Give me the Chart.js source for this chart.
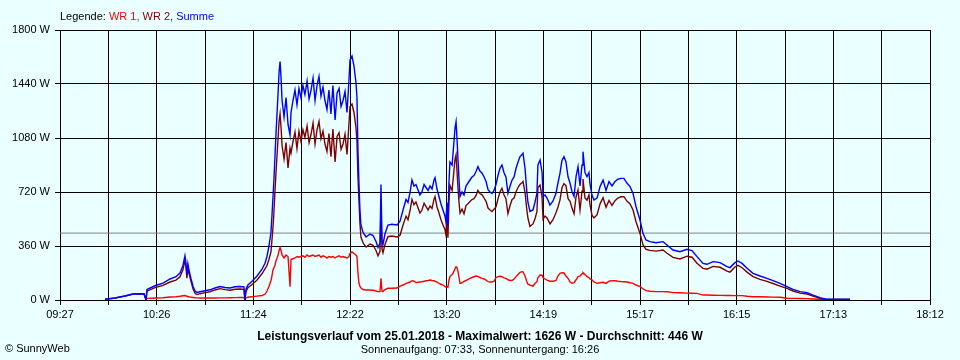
<!DOCTYPE html>
<html>
<head>
<meta charset="utf-8">
<script src="https://cdn.jsdelivr.net/npm/chart.js@4.4.1/dist/chart.umd.min.js"></script>
<style>
  html, body { margin: 0; padding: 0; background: #eaffff; }
  #wrap { width: 960px; height: 360px; }
</style>
</head>
<body>
<div id="wrap"><canvas id="chart" width="960" height="360"></canvas></div>
<script>
// Zeitpunkte in Minuten seit Mitternacht
const times = [
  594.2, 600.2, 606.2, 611.1, 617.7, 618.9, 619.5, 624.3, 629.2, 633.4,
  637.0, 639.4, 641.2, 642.4, 643.0, 643.6, 644.2, 644.8, 646.1, 647.3,
  648.5, 649.7, 651.5, 654.5, 657.5, 660.5, 663.6, 666.6, 669.6, 672.6,
  675.6, 678.0, 678.6, 679.2, 680.4, 682.9, 685.9, 688.9, 690.7, 691.9,
  693.1, 694.3, 694.9, 695.5, 696.1, 696.7, 697.3, 698.0, 698.6, 699.2,
  699.8, 700.4, 701.0, 702.2, 703.4, 704.6, 705.8, 706.4, 707.6, 708.8,
  710.0, 711.2, 712.4, 713.6, 714.8, 716.1, 717.3, 718.5, 719.7, 720.9,
  722.1, 723.3, 724.5, 725.7, 726.9, 728.1, 729.3, 730.5, 731.7, 733.0,
  734.2, 735.4, 736.6, 737.8, 739.0, 740.2, 741.4, 742.0, 743.2, 744.4,
  745.6, 746.2, 746.8, 747.4, 748.0, 748.6, 749.9, 751.7, 754.1, 755.9,
  757.7, 758.9, 760.1, 760.7, 761.3, 761.9, 763.1, 764.9, 767.3, 770.4,
  772.2, 774.0, 775.8, 777.0, 778.2, 779.4, 780.6, 781.8, 783.0, 784.2,
  785.4, 786.7, 787.9, 789.1, 790.3, 791.5, 792.7, 793.3, 794.5, 795.7,
  796.9, 798.1, 799.3, 799.9, 800.5, 801.1, 801.7, 802.3, 803.6, 804.2,
  805.4, 806.0, 806.6, 807.2, 807.8, 808.4, 809.6, 810.8, 812.0, 813.2,
  814.4, 815.6, 816.8, 818.0, 819.2, 820.4, 821.7, 822.9, 824.1, 825.3,
  826.5, 827.7, 828.9, 830.1, 831.3, 832.5, 833.7, 834.9, 836.1, 837.3,
  838.6, 839.8, 841.0, 842.2, 843.4, 844.6, 845.8, 846.4, 847.6, 848.8,
  849.4, 850.6, 852.4, 853.6, 854.8, 855.4, 856.7, 857.9, 858.5, 859.7,
  860.9, 862.7, 864.5, 866.3, 867.5, 868.7, 869.9, 871.1, 872.3, 873.6,
  874.8, 876.0, 877.2, 878.4, 879.6, 880.8, 882.0, 882.6, 883.8, 885.0,
  886.2, 886.8, 888.0, 889.2, 891.1, 892.9, 894.7, 896.5, 898.3, 900.1,
  901.9, 903.7, 905.5, 907.3, 909.2, 911.0, 912.8, 914.6, 917.0, 918.8,
  920.6, 923.0, 926.7, 930.9, 933.3, 936.9, 941.1, 945.4, 948.4, 951.4,
  955.0, 957.4, 961.1, 965.3, 969.5, 971.3, 974.3, 976.1, 978.6, 981.6,
  985.2, 989.4, 993.6, 997.3, 1001.5, 1005.7, 1009.3, 1013.6, 1017.8, 1021.4,
  1025.6, 1029.2, 1043.7
];

// WR 1 (W)
const wr1 = [
  null, null, null, null, null, null, 11, 13, 15, 20,
  22, 25, 28, 30, 28, 25, 22, 22, 18, 17,
  15, 14, 13, 13, 13, 13, 14, 14, 15, 16,
  17, 17, 0, 15, 18, 22, 26, 30, 38, 60,
  90, 130, 160, 200, 215, 230, 260, 280, 300, 330,
  349, 330, 300, 280, 300, 290, 89, 270, 275, 280,
  290, 285, 290, 295, 285, 300, 290, 295, 300, 290,
  295, 300, 285, 295, 290, 280, 290, 285, 290, 280,
  290, 295, 285, 290, 285, 280, 290, 310, 320, 310,
  300, 290, 180, 113, 90, 80, 70, 67, 67, 65,
  60, 56, 56, 144, 60, 56, 70, 78, 78, 80,
  93, 100, 111, 115, 120, 129, 125, 116, 118, 120,
  122, 125, 128, 130, 133, 130, 128, 125, 120, 110,
  105, 100, 90, 85, 89, 85, 130, 156, 170, 178,
  210, 222, 215, 189, 150, 111, 115, 125, 130, 138,
  144, 150, 155, 160, 158, 150, 144, 140, 132, 122,
  120, 120, 125, 150, 156, 158, 155, 148, 144, 135,
  130, 130, 140, 156, 170, 185, 189, 188, 160, 120,
  105, 100, 93, 110, 122, 150, 167, 165, 150, 140,
  133, 125, 125, 130, 160, 178, 182, 180, 160, 144,
  120, 111, 115, 135, 156, 160, 175, 182, 170, 156,
  150, 140, 135, 120, 111, 115, 118, 111, 125, 129,
  128, 125, 123, 122, 120, 115, 111, 100, 89, 75,
  62, 58, 56, 56, 55, 49, 48, 46, 45, 44,
  33, 33, 32, 31, 30, 30, 29, 29, 29, 25,
  22, 22, 20, 19, 18, 12, 11, 10, 9, 7,
  5, 2, null
];

// WR 2 (W)
const wr2 = [
  5, 13, 27, 40, 42, 0, 59, 82, 98, 120,
  133, 155, 202, 265, 222, 145, 218, 178, 122, 73,
  45, 36, 42, 49, 55, 67, 76, 69, 65, 72,
  73, 71, 0, 55, 82, 103, 134, 175, 207, 230,
  270, 320, 400, 480, 585, 720, 840, 970, 1080, 1190,
  1241, 1150, 1030, 940, 1050, 880, 1011, 980, 1055, 1120,
  1010, 1125, 1060, 1135, 1085, 1160, 1050, 1105, 1180, 1040,
  1135, 1190, 1075, 1125, 1040, 990, 1110, 955, 1140, 920,
  1090, 1115, 1005, 1040, 1105, 970, 1180, 1290, 1306, 1250,
  1150, 1060, 820, 667, 510, 420, 380, 353, 373, 365,
  330, 294, 324, 626, 340, 314, 370, 422, 427, 420,
  432, 500, 559, 535, 595, 671, 635, 654, 617, 580,
  598, 645, 622, 600, 627, 610, 672, 690, 620, 580,
  535, 500, 470, 435, 561, 415, 650, 764, 730, 802,
  940, 967, 855, 741, 650, 579, 605, 575, 630, 642,
  656, 670, 675, 695, 731, 710, 701, 680, 658, 613,
  600, 590, 605, 620, 674, 720, 745, 702, 676, 576,
  630, 670, 680, 722, 750, 771, 781, 790, 720, 591,
  545, 490, 507, 540, 589, 750, 766, 685, 540, 560,
  547, 508, 535, 581, 620, 666, 748, 776, 762, 676,
  658, 611, 575, 687, 733, 600, 725, 807, 680, 666,
  700, 638, 565, 547, 569, 641, 682, 619, 664, 631,
  662, 680, 688, 689, 658, 641, 600, 522, 444, 369,
  338, 331, 326, 333, 312, 284, 274, 292, 285, 245,
  211, 205, 224, 218, 192, 186, 220, 231, 215, 186,
  156, 138, 124, 110, 93, 77, 60, 46, 40, 26,
  11, 3, 3
];

// Summe (W)
const summe = [
  5, 13, 27, 40, 42, 0, 70, 95, 113, 140,
  155, 180, 230, 295, 250, 170, 240, 200, 140, 90,
  60, 50, 55, 62, 68, 80, 90, 83, 80, 88,
  90, 88, 0, 70, 100, 125, 160, 205, 245, 290,
  360, 450, 560, 680, 800, 950, 1100, 1250, 1380, 1520,
  1590, 1480, 1330, 1220, 1350, 1170, 1100, 1250, 1330, 1400,
  1300, 1410, 1350, 1430, 1370, 1460, 1340, 1400, 1480, 1330,
  1430, 1490, 1360, 1420, 1330, 1270, 1400, 1240, 1430, 1200,
  1380, 1410, 1290, 1330, 1390, 1250, 1470, 1600, 1626, 1560,
  1450, 1350, 1000, 780, 600, 500, 450, 420, 440, 430,
  390, 350, 380, 770, 400, 370, 440, 500, 505, 500,
  525, 600, 670, 650, 715, 800, 760, 770, 735, 700,
  720, 770, 750, 730, 760, 740, 800, 815, 740, 690,
  640, 600, 560, 520, 650, 500, 780, 920, 900, 980,
  1150, 1189, 1070, 930, 800, 690, 720, 700, 760, 780,
  800, 820, 830, 855, 889, 860, 845, 820, 790, 735,
  720, 710, 730, 770, 830, 878, 900, 850, 820, 711,
  760, 800, 820, 878, 920, 956, 970, 978, 880, 711,
  650, 590, 600, 650, 711, 900, 933, 850, 690, 700,
  680, 633, 660, 711, 780, 844, 930, 956, 922, 820,
  778, 722, 690, 822, 889, 760, 900, 989, 850, 822,
  850, 778, 700, 667, 680, 756, 800, 730, 789, 760,
  790, 805, 811, 811, 778, 756, 711, 622, 533, 444,
  400, 389, 382, 389, 367, 333, 322, 338, 330, 289,
  244, 238, 256, 249, 222, 216, 249, 260, 244, 211,
  178, 160, 144, 129, 111, 89, 71, 56, 49, 33,
  16, 5, 5
];

const xTickLabels = ['09:27', '10:26', '11:24', '12:22', '13:20', '14:19', '15:17', '16:15', '17:13', '18:12'];
const xStart = 567;   // 09:27
const xEnd = 1092;    // 18:12
const xDivisions = 18;
const yTicks = [0, 360, 720, 1080, 1440, 1800];
const durchschnitt = 446;

const FONT = '"Liberation Sans", Arial, sans-serif';

const toPoints = arr => times.map((t, i) => ({ x: t, y: arr[i] }));

const background = {
  id: 'background',
  beforeDraw(chart) {
    const { ctx, width, height } = chart;
    ctx.save();
    ctx.fillStyle = '#eaffff';
    ctx.fillRect(0, 0, width, height);
    ctx.restore();
  }
};

const texts = {
  id: 'texts',
  afterDraw(chart) {
    const ctx = chart.ctx;
    ctx.save();
    ctx.textBaseline = 'middle';

    // Legende oben links
    ctx.font = '11px ' + FONT;
    let x = 60;
    [['Legende: ', '#000000'], ['WR 1, ', '#ff0000'], ['WR 2, ', '#800000'], ['Summe', '#0000ff']].forEach(([txt, col]) => {
      ctx.fillStyle = col;
      ctx.textAlign = 'left';
      ctx.fillText(txt, x, 17);
      x += ctx.measureText(txt).width;
    });

    // Titel unten
    ctx.fillStyle = '#000000';
    ctx.textAlign = 'center';
    ctx.font = 'bold 12px ' + FONT;
    ctx.fillText('Leistungsverlauf vom 25.01.2018 - Maximalwert: 1626 W - Durchschnitt: 446 W', 480, 337);
    ctx.font = '11px ' + FONT;
    ctx.fillText('Sonnenaufgang: 07:33, Sonnenuntergang: 16:26', 480, 350);

    ctx.textAlign = 'left';
    ctx.fillText('\u00A9 SunnyWeb', 5, 349);
    ctx.restore();
  }
};

new Chart(document.getElementById('chart'), {
  type: 'line',
  data: {
    datasets: [
      { label: 'Summe', data: toPoints(summe), borderColor: '#0000ff', borderWidth: 1.4, pointRadius: 0, tension: 0 },
      { label: 'WR 2', data: toPoints(wr2), borderColor: '#800000', borderWidth: 1.4, pointRadius: 0, tension: 0 },
      { label: 'WR 1', data: toPoints(wr1), borderColor: '#ff0000', borderWidth: 1.4, pointRadius: 0, tension: 0 },
      { label: 'Durchschnitt', data: [{ x: xStart, y: durchschnitt }, { x: xEnd, y: durchschnitt }], borderColor: '#808080', borderWidth: 1, pointRadius: 0 }
    ]
  },
  options: {
    responsive: false,
    animation: false,
    devicePixelRatio: 1,
    layout: { padding: { left: 0, top: 30, right: 30, bottom: 0 } },
    plugins: { legend: { display: false }, tooltip: { enabled: false } },
    scales: {
      x: {
        type: 'linear',
        min: xStart,
        max: xEnd,
        afterBuildTicks: scale => {
          const step = (xEnd - xStart) / xDivisions;
          scale.ticks = Array.from({ length: xDivisions + 1 }, (_, i) => ({ value: xStart + i * step }));
        },
        afterFit: scale => { scale.height = 60; },
        ticks: {
          autoSkip: false,
          maxRotation: 0,
          padding: 3,
          color: '#000000',
          font: { family: FONT, size: 11 },
          callback: (v, i) => (i % 2 === 0 ? xTickLabels[i / 2] : '')
        },
        grid: { color: '#000000', lineWidth: 1, tickLength: 5 },
        border: { color: '#000000', width: 1 }
      },
      y: {
        min: 0,
        max: 1800,
        afterBuildTicks: scale => { scale.ticks = yTicks.map(v => ({ value: v })); },
        afterFit: scale => { scale.width = 60; },
        ticks: {
          padding: 5,
          color: '#000000',
          font: { family: FONT, size: 11 },
          callback: v => v + ' W'
        },
        grid: { color: '#000000', lineWidth: 1, tickLength: 5 },
        border: { color: '#000000', width: 1 }
      }
    }
  },
  plugins: [background, texts]
});
</script>
</body>
</html>
